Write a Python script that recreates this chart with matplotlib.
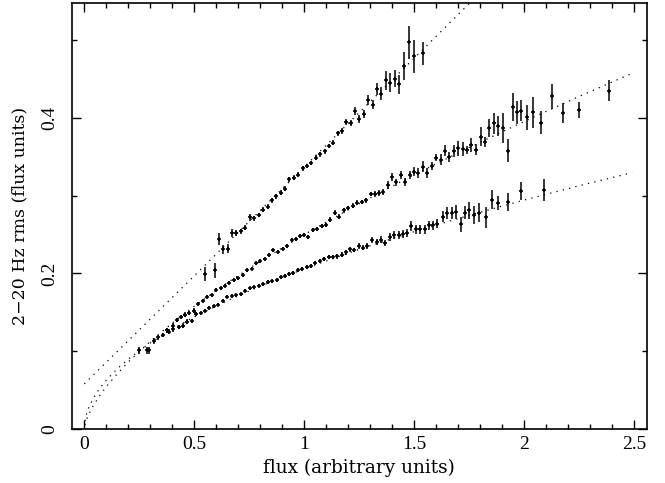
import matplotlib
matplotlib.use("Agg")
import matplotlib.pyplot as plt
from matplotlib.ticker import MultipleLocator

# ---- top series ----
top_x = [0.549, 0.593, 0.611, 0.632, 0.652, 0.671, 0.691, 0.711, 0.732, 0.753,
         0.771, 0.793, 0.814, 0.834, 0.852, 0.871, 0.893, 0.912, 0.932, 0.952,
         0.973, 0.993, 1.012, 1.032, 1.053, 1.071, 1.092, 1.112, 1.132, 1.152,
         1.171, 1.191, 1.211, 1.230, 1.250, 1.270, 1.291, 1.311, 1.330, 1.350,
         1.370, 1.390, 1.411, 1.430, 1.452, 1.475, 1.500, 1.540]
top_y = [0.199, 0.204, 0.244, 0.231, 0.232, 0.252, 0.252, 0.254, 0.259, 0.272,
         0.271, 0.275, 0.282, 0.286, 0.294, 0.299, 0.304, 0.309, 0.321, 0.323,
         0.327, 0.335, 0.338, 0.342, 0.349, 0.353, 0.357, 0.364, 0.368, 0.380,
         0.383, 0.395, 0.393, 0.409, 0.399, 0.405, 0.423, 0.417, 0.437, 0.431,
         0.448, 0.445, 0.450, 0.443, 0.467, 0.497, 0.479, 0.483]
top_err = [0.009, 0.010, 0.0075, 0.006, 0.006, 0.005, 0.004, 0.003, 0.003, 0.004,
           0.003, 0.003, 0.003, 0.003, 0.003, 0.003, 0.003, 0.003, 0.003, 0.003,
           0.003, 0.003, 0.003, 0.003, 0.003, 0.003, 0.003, 0.003, 0.003, 0.003,
           0.004, 0.004, 0.004, 0.005, 0.005, 0.005, 0.0064, 0.006, 0.0075, 0.0086,
           0.012, 0.012, 0.011, 0.012, 0.018, 0.021, 0.021, 0.015]

# ---- middle series ----
mid_x = [0.249, 0.295, 0.336, 0.377, 0.402, 0.420, 0.438, 0.458, 0.477, 0.499,
         0.518, 0.538, 0.559, 0.579, 0.599, 0.620, 0.640, 0.659, 0.680, 0.700,
         0.720, 0.741, 0.761, 0.780, 0.800, 0.820, 0.841, 0.859, 0.879, 0.902,
         0.920, 0.943, 0.962, 0.980, 0.999, 1.018, 1.038, 1.056, 1.079, 1.097,
         1.117, 1.140, 1.159, 1.180, 1.200, 1.220, 1.241, 1.261, 1.280, 1.302,
         1.321, 1.341, 1.359, 1.379, 1.397, 1.417, 1.438, 1.458, 1.480, 1.499,
         1.518, 1.541, 1.559, 1.579, 1.599, 1.620, 1.640, 1.659, 1.680, 1.700,
         1.720, 1.738, 1.759, 1.780, 1.802, 1.821, 1.841, 1.862, 1.882, 1.905,
         1.927, 1.947, 1.965, 1.986, 2.014, 2.041, 2.077, 2.126, 2.177, 2.250,
         2.386]
mid_y = [0.101, 0.101, 0.118, 0.127, 0.133, 0.140, 0.144, 0.147, 0.149, 0.152,
         0.161, 0.165, 0.170, 0.172, 0.179, 0.181, 0.184, 0.188, 0.191, 0.194,
         0.198, 0.204, 0.206, 0.213, 0.216, 0.218, 0.224, 0.230, 0.228, 0.232,
         0.235, 0.243, 0.244, 0.248, 0.250, 0.247, 0.256, 0.257, 0.261, 0.262,
         0.269, 0.278, 0.273, 0.281, 0.284, 0.287, 0.291, 0.292, 0.294, 0.302,
         0.302, 0.303, 0.305, 0.314, 0.324, 0.317, 0.327, 0.318, 0.327, 0.331,
         0.329, 0.337, 0.329, 0.338, 0.349, 0.346, 0.358, 0.350, 0.357, 0.361,
         0.360, 0.359, 0.365, 0.359, 0.376, 0.369, 0.387, 0.393, 0.390, 0.387,
         0.358, 0.414, 0.407, 0.409, 0.401, 0.407, 0.394, 0.428, 0.406, 0.410,
         0.435]
mid_err = [0.004, 0.004, 0.003, 0.003, 0.003, 0.003, 0.003, 0.003, 0.003, 0.003,
           0.002, 0.002, 0.002, 0.002, 0.002, 0.002, 0.002, 0.002, 0.002, 0.002,
           0.002, 0.002, 0.002, 0.002, 0.002, 0.002, 0.002, 0.002, 0.002, 0.002,
           0.0025, 0.0025, 0.0025, 0.0025, 0.0025, 0.0025, 0.0025, 0.0025, 0.0025, 0.0025,
           0.003, 0.003, 0.003, 0.003, 0.003, 0.003, 0.003, 0.003, 0.003, 0.003,
           0.004, 0.004, 0.004, 0.005, 0.005, 0.005, 0.005, 0.005, 0.005, 0.006,
           0.006, 0.007, 0.0064, 0.005, 0.005, 0.007, 0.007, 0.0065, 0.0075, 0.0097,
           0.0086, 0.005, 0.009, 0.007, 0.012, 0.007, 0.011, 0.0135, 0.013, 0.019,
           0.015, 0.018, 0.0146, 0.0135, 0.016, 0.0197, 0.0144, 0.016, 0.013, 0.010,
           0.0135]

# ---- bottom series ----
bot_x = [0.286, 0.317, 0.359, 0.386, 0.405, 0.428, 0.450, 0.468, 0.488, 0.508,
         0.529, 0.549, 0.568, 0.590, 0.609, 0.629, 0.647, 0.670, 0.690, 0.711,
         0.732, 0.753, 0.771, 0.793, 0.814, 0.834, 0.853, 0.875, 0.894, 0.912,
         0.932, 0.950, 0.971, 0.990, 1.011, 1.030, 1.050, 1.071, 1.090, 1.111,
         1.129, 1.150, 1.170, 1.190, 1.208, 1.226, 1.247, 1.268, 1.286, 1.308,
         1.329, 1.347, 1.368, 1.390, 1.408, 1.429, 1.447, 1.465, 1.486, 1.508,
         1.526, 1.547, 1.568, 1.586, 1.605, 1.629, 1.650, 1.670, 1.690, 1.711,
         1.730, 1.750, 1.771, 1.794, 1.826, 1.852, 1.882, 1.926, 1.986, 2.091]
bot_y = [0.101, 0.113, 0.121, 0.125, 0.128, 0.131, 0.133, 0.138, 0.139, 0.148,
         0.149, 0.152, 0.156, 0.158, 0.160, 0.165, 0.170, 0.171, 0.172, 0.173,
         0.178, 0.181, 0.182, 0.184, 0.186, 0.189, 0.190, 0.191, 0.195, 0.197,
         0.199, 0.201, 0.204, 0.206, 0.208, 0.210, 0.214, 0.216, 0.218, 0.221,
         0.221, 0.222, 0.224, 0.227, 0.231, 0.230, 0.235, 0.233, 0.235, 0.243,
         0.240, 0.243, 0.239, 0.247, 0.249, 0.249, 0.251, 0.252, 0.261, 0.257,
         0.257, 0.257, 0.262, 0.262, 0.264, 0.273, 0.278, 0.278, 0.279, 0.263,
         0.278, 0.281, 0.275, 0.278, 0.272, 0.295, 0.291, 0.292, 0.306, 0.307]
bot_err = [0.004, 0.004, 0.003, 0.003, 0.003, 0.003, 0.003, 0.003, 0.003, 0.003,
           0.002, 0.002, 0.002, 0.002, 0.002, 0.002, 0.002, 0.002, 0.002, 0.002,
           0.002, 0.002, 0.002, 0.002, 0.002, 0.002, 0.002, 0.002, 0.002, 0.002,
           0.0025, 0.0025, 0.0025, 0.0025, 0.0025, 0.0025, 0.0025, 0.0025, 0.0025, 0.0025,
           0.003, 0.003, 0.003, 0.003, 0.003, 0.003, 0.0035, 0.0035, 0.004, 0.0043,
           0.004, 0.0045, 0.0043, 0.005, 0.005, 0.005, 0.005, 0.005, 0.0064, 0.0058,
           0.0058, 0.0058, 0.006, 0.006, 0.006, 0.007, 0.0075, 0.0075, 0.009, 0.0097,
           0.0086, 0.011, 0.012, 0.0124, 0.014, 0.012, 0.009, 0.012, 0.012, 0.014]

# ---- dotted model curves ----
top_fit_x = [0.0, 0.5, 1.0, 1.5, 1.76]
top_fit_y = [0.058, 0.197, 0.337, 0.477, 0.550]
mid_fit_x = [0.003, 0.01, 0.02, 0.04, 0.07, 0.10, 0.15, 0.20, 0.30, 0.40, 0.50,
             0.65, 0.80, 1.00, 1.25, 1.50, 1.75, 2.00, 2.25, 2.49]
mid_fit_y = [0.0053, 0.0119, 0.0188, 0.0297, 0.0430, 0.0545, 0.0712, 0.0862, 0.1127,
             0.1363, 0.1580, 0.1880, 0.2157, 0.2500, 0.2898, 0.3270, 0.3620, 0.3955,
             0.4276, 0.4573]
bot_fit_x = [0.003, 0.01, 0.02, 0.04, 0.07, 0.10, 0.15, 0.20, 0.30, 0.40, 0.50,
             0.65, 0.80, 1.00, 1.25, 1.50, 1.75, 2.00, 2.25, 2.49]
bot_fit_y = [0.0103, 0.0192, 0.0275, 0.0392, 0.0524, 0.0629, 0.0775, 0.0899, 0.1108,
             0.1285, 0.1442, 0.1650, 0.1837, 0.2060, 0.2311, 0.2538, 0.2748, 0.2944,
             0.3128, 0.3295]

x_ticks = [0, 0.5, 1, 1.5, 2, 2.5]
x_ticklabels = ["0", "0.5", "1", "1.5", "2", "2.5"]
y_ticks = [0, 0.2, 0.4]
y_ticklabels = ["0", "0.2", "0.4"]

plt.rcParams['font.family'] = ['Liberation Serif', 'DejaVu Serif']

fig = plt.figure(figsize=(6.65, 4.83), dpi=100)
ax = fig.add_axes([0.1083, 0.1118, 0.8642, 0.8826])

dot = (0, (1, 4.2))
for fx, fy in [(top_fit_x, top_fit_y), (mid_fit_x, mid_fit_y), (bot_fit_x, bot_fit_y)]:
    ax.plot(fx, fy, linestyle=dot, color='black', linewidth=0.9)

for xs, ys, es in [(top_x, top_y, top_err), (mid_x, mid_y, mid_err), (bot_x, bot_y, bot_err)]:
    ax.errorbar(xs, ys, yerr=es, fmt='+', color='black', ms=3.5, mew=1.2,
                elinewidth=1.1, capsize=0)

ax.set_xlim(-0.056, 2.556)
ax.set_ylim(0, 0.548)

ax.set_xticks(x_ticks)
ax.set_xticklabels(x_ticklabels)
ax.set_yticks(y_ticks)
ax.set_yticklabels(y_ticklabels, rotation=90, va='center')
ax.xaxis.set_minor_locator(MultipleLocator(0.1))
ax.yaxis.set_minor_locator(MultipleLocator(0.1))
ax.tick_params(which='both', direction='in', top=True, right=True, width=1.0,
               labelsize=14, colors='black')
ax.tick_params(which='major', length=6.5)
ax.tick_params(which='minor', length=3.6)
ax.tick_params(axis='x', pad=5)
ax.tick_params(axis='y', pad=10)
for s in ax.spines.values():
    s.set_linewidth(1.2)

label_font = ['DejaVu Serif']
ax.set_xlabel("flux (arbitrary units)", fontsize=13.3, family=label_font, labelpad=4)
ax.set_ylabel("2\u221220 Hz rms (flux units)", fontsize=12.5, family=label_font, labelpad=9)

fig.savefig("out.png", dpi=100)
